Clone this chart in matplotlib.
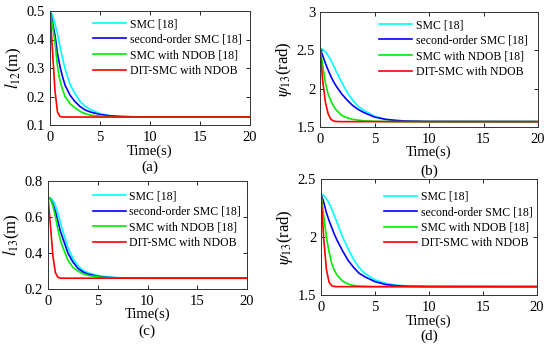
import numpy as np
import matplotlib
matplotlib.use('Agg')
import matplotlib.pyplot as plt

plt.rcParams['font.family'] = 'Liberation Serif'
plt.rcParams['mathtext.fontset'] = 'stix'

# time samples (s)
t = [0, 0.25, 0.5, 0.75, 1, 1.25, 1.5, 2, 2.5, 3, 3.5, 4, 5, 6, 7, 8, 10, 20]

labels = ['SMC [18]', 'second-order SMC [18]', 'SMC with NDOB [18]', 'DIT-SMC with NDOB']
colors = ['#00ffff', '#0000ff', '#00ee00', '#ff0000']

# (a) l12
a_smc = [0.5, 0.485, 0.455, 0.42, 0.375, 0.335, 0.298, 0.243, 0.21, 0.183, 0.166, 0.155, 0.14, 0.133, 0.13, 0.129, 0.128, 0.128]
a_so = [0.5, 0.46, 0.415, 0.35, 0.305, 0.27, 0.24, 0.205, 0.182, 0.165, 0.153, 0.146, 0.137, 0.132, 0.13, 0.129, 0.128, 0.128]
a_ndob = [0.5, 0.45, 0.39, 0.305, 0.255, 0.225, 0.2, 0.175, 0.16, 0.148, 0.14, 0.135, 0.131, 0.129, 0.128, 0.128, 0.128, 0.128]
a_dit = [0.5, 0.36, 0.22, 0.145, 0.13, 0.128, 0.128, 0.128, 0.128, 0.128, 0.128, 0.128, 0.128, 0.128, 0.128, 0.128, 0.128, 0.128]

# (b) psi12
b_smc = [2.53, 2.51, 2.48, 2.43, 2.37, 2.3, 2.22, 2.08, 1.95, 1.85, 1.77, 1.72, 1.64, 1.6, 1.585, 1.577, 1.572, 1.57]
b_so = [2.53, 2.43, 2.33, 2.24, 2.16, 2.09, 2.03, 1.93, 1.85, 1.78, 1.73, 1.69, 1.63, 1.6, 1.585, 1.577, 1.572, 1.57]
b_ndob = [2.53, 2.3, 2.07, 1.93, 1.84, 1.77, 1.72, 1.65, 1.62, 1.6, 1.59, 1.58, 1.575, 1.572, 1.57, 1.57, 1.57, 1.57]
b_dit = [2.53, 2.1, 1.82, 1.67, 1.6, 1.578, 1.572, 1.57, 1.57, 1.57, 1.57, 1.57, 1.57, 1.57, 1.57, 1.57, 1.57, 1.57]

# (c) l13
c_smc = [0.71, 0.705, 0.69, 0.665, 0.62, 0.57, 0.52, 0.43, 0.37, 0.33, 0.305, 0.29, 0.275, 0.267, 0.263, 0.261, 0.26, 0.26]
c_so = [0.71, 0.70, 0.67, 0.63, 0.575, 0.52, 0.48, 0.40, 0.35, 0.315, 0.295, 0.283, 0.27, 0.264, 0.262, 0.261, 0.26, 0.26]
c_ndob = [0.71, 0.70, 0.66, 0.60, 0.53, 0.47, 0.43, 0.36, 0.32, 0.3, 0.285, 0.276, 0.267, 0.263, 0.261, 0.26, 0.26, 0.26]
c_dit = [0.71, 0.55, 0.38, 0.29, 0.265, 0.26, 0.26, 0.26, 0.26, 0.26, 0.26, 0.26, 0.26, 0.26, 0.26, 0.26, 0.26, 0.26]

# (d) psi13
d_smc = [2.37, 2.36, 2.33, 2.29, 2.24, 2.18, 2.12, 2.0, 1.9, 1.81, 1.74, 1.69, 1.63, 1.6, 1.585, 1.578, 1.573, 1.572]
d_so = [2.37, 2.3, 2.21, 2.14, 2.08, 2.02, 1.97, 1.88, 1.8, 1.74, 1.69, 1.66, 1.615, 1.59, 1.58, 1.575, 1.573, 1.572]
d_ndob = [2.37, 2.18, 2.0, 1.87, 1.77, 1.71, 1.67, 1.62, 1.595, 1.583, 1.577, 1.574, 1.572, 1.572, 1.572, 1.572, 1.572, 1.572]
d_dit = [2.37, 1.99, 1.72, 1.61, 1.58, 1.573, 1.572, 1.572, 1.572, 1.572, 1.572, 1.572, 1.572, 1.572, 1.572, 1.572, 1.572, 1.572]

xticks = [0, 5, 10, 15, 20]
a_yticks = [0.1, 0.2, 0.3, 0.4, 0.5]
a_ylabels = ['0.1', '0.2', '0.3', '0.4', '0.5']
b_yticks = [1.5, 2, 2.5, 3]
b_ylabels = ['1.5', '2', '2.5', '3']
c_yticks = [0.2, 0.4, 0.6, 0.8]
c_ylabels = ['0.2', '0.4', '0.6', '0.8']
d_yticks = [1.5, 2, 2.5]
d_ylabels = ['1.5', '2', '2.5']

W, H = 550, 348
fig = plt.figure(figsize=(W / 100, H / 100), dpi=100)


def box(l, tp, r, b):
    return [l / W, 1 - b / H, (r - l) / W, (b - tp) / H]


# rect, data, yticks, ytick labels, ylabel, letter, legend anchor, letter pos (px), xlabel pad
panels = [
    (box(50, 11, 250, 125), [a_smc, a_so, a_ndob, a_dit], a_yticks, a_ylabels, r'$l_{12}$(m)', '(a)', (0.18, 1.0), (150, 167), 1),
    (box(320, 12, 538, 127), [b_smc, b_so, b_ndob, b_dit], b_yticks, b_ylabels, r'$\psi_{13}$(rad)', '(b)', (0.24, 1.0), (429, 171), 0),
    (box(48, 181, 247, 289), [c_smc, c_so, c_ndob, c_dit], c_yticks, c_ylabels, r'$l_{13}$(m)', '(c)', (0.19, 0.98), (147, 331), 0),
    (box(321, 179, 537, 295), [d_smc, d_so, d_ndob, d_dit], d_yticks, d_ylabels, r'$\psi_{13}$(rad)', '(d)', (0.26, 0.96), (429, 336), 1),
]

for rect, series, yt, ylab, ytitle, letter, anchor, lpos, xpad in panels:
    ax = fig.add_axes(rect)
    for y, c, lab in zip(series, colors, labels):
        ax.plot(t, y, color=c, lw=1.2, label=lab)
    ax.set_xlim(0, 20)
    ax.set_ylim(yt[0], yt[-1])
    ax.set_xticks(xticks)
    ax.set_yticks(yt)
    ax.set_yticklabels(ylab)
    ax.tick_params(direction='in', top=True, right=True, labelsize=10.5, length=3, width=0.6)
    ax.tick_params(axis='x', pad=4)
    for s in ax.spines.values():
        s.set_linewidth(0.7)
        s.set_color('#333333')
    ax.set_xlabel('Time(s)', fontsize=10.5, labelpad=xpad)
    ax.set_ylabel(ytitle, fontsize=12, labelpad=2)
    fig.text(lpos[0] / W, 1 - lpos[1] / H, letter, ha='center', va='center', fontsize=11)
    ax.legend(loc='upper left', bbox_to_anchor=anchor, frameon=False, fontsize=8.5,
              handlelength=2.8, handletextpad=0.3, labelspacing=0.3, borderaxespad=0.2)

fig.savefig('out.png', dpi=100)
